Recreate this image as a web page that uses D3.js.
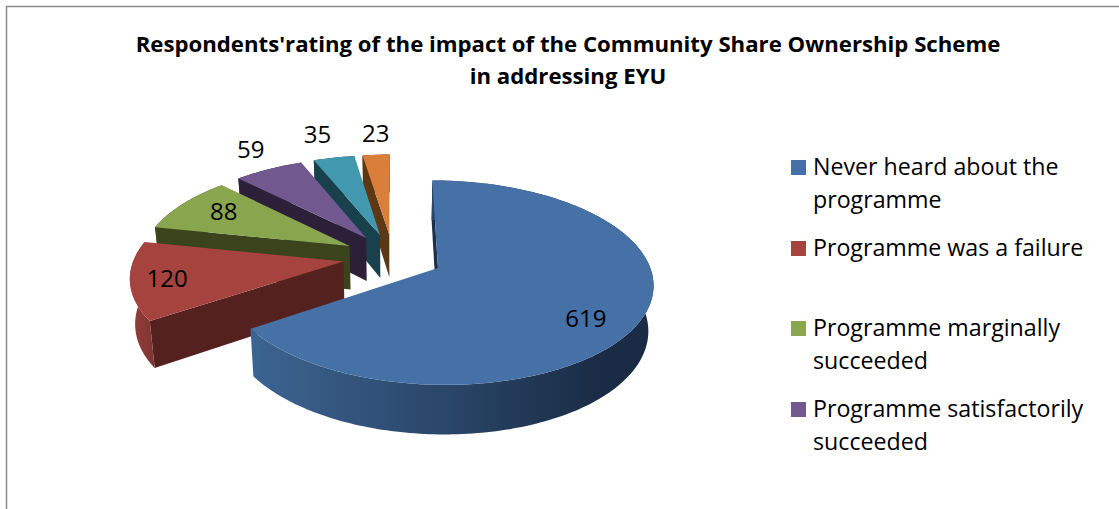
<!DOCTYPE html>
<html>
<head>
<meta charset="utf-8">
<script src="https://cdn.jsdelivr.net/npm/d3@7/dist/d3.min.js"></script>
<style>
html,body{margin:0;padding:0;background:#fff;overflow:hidden}
text{font-family:"Open Sans",Lato,sans-serif;fill:#000}
</style>
</head>
<body>
<svg id="chart" width="1119" height="509"></svg>
<script>
const categories = ["Never heard about the programme","Programme was a failure","Programme marginally succeeded","Programme satisfactorily succeeded","Programme very successful","Programme extremely successful"];
const values = [619,120,88,59,35,23];
const topColors = ["#4571A6","#A6433F","#89A54E","#71588F","#4198AF","#D97F3A"];
const wallColors = ["#1B2F4B","#55211F","#3A431B","#2C2039","#19404D","#5E3714"];
const rimColors = ["url(#blueRim)","url(#redRim)","#3A431B","#2C2039","#19404D","#5E3714"];
const legendLines = [["Never heard about the","programme"],["Programme was a failure"],["Programme marginally","succeeded"],["Programme satisfactorily","succeeded"]];
const titleLines = ["Respondents'rating of the impact of the Community Share Ownership Scheme","in addressing EYU"];
// label placement along each slice's middle direction, then a small pixel nudge
const labelNudge = [[8,15],[-28,3],[-7,-5],[-45,-40],[-29,-46],[-4,-44]];
const legendTop = [175,256,336,417];

const svg = d3.select("#chart");

// border: only the top and left edges fall inside the frame
svg.append("path").attr("d", d3.line()([[6.5,509],[6.5,6.5],[1119,6.5]]))
   .attr("fill","none").attr("stroke","#8a8a8a").attr("stroke-width",1.5);

// rim shading
const defs = svg.append("defs");
const blueRim = defs.append("linearGradient").attr("id","blueRim").attr("gradientUnits","userSpaceOnUse")
   .attr("x1",252).attr("x2",600).attr("y1",0).attr("y2",0);
[[0,"#3C6491"],[0.55,"#2A4669"],[1,"#1A2C45"]].forEach(s => blueRim.append("stop").attr("offset",s[0]).attr("stop-color",s[1]));
const redRim = defs.append("linearGradient").attr("id","redRim").attr("gradientUnits","userSpaceOnUse")
   .attr("x1",128).attr("x2",156).attr("y1",0).attr("y2",0);
[[0,"#96403C"],[1,"#7E3330"]].forEach(s => redRim.append("stop").attr("offset",s[0]).attr("stop-color",s[1]));

// ground plane to screen, tilted with mild perspective
const xScale = d3.scaleLinear().domain([0,1]).range([393,602]);
const yScale = d3.scaleLinear().domain([0,1]).range([257,354]);
const persp = 0.14, explode = 0.24, rimShrink = 0.98;
const project = (gx,gy) => { const s = 1/(1-persp*gy); return [xScale(gx*s), yScale(gy*s)]; };
const lower = (gx,gy) => {
  const p = project(gx,gy);
  return [xScale(0)+(p[0]-xScale(0))*rimShrink, p[1]+44+5*gy];
};
const dir = a => [Math.sin(a), -Math.cos(a)];

const arcs = d3.pie().sort(null).value(d => d)(values);
const line = d3.line();
const slices = arcs.map((a,i) => {
  const mid = (a.startAngle+a.endAngle)/2, m = dir(mid);
  const apex = [m[0]*explode, m[1]*explode];
  const n = Math.max(4, Math.ceil((a.endAngle-a.startAngle)/0.02));
  const ring = d3.range(n+1).map(k => {
    const d = dir(a.startAngle+(a.endAngle-a.startAngle)*k/n);
    return [apex[0]+d[0], apex[1]+d[1]];
  });
  return {i, mid, m, apex, ring};
});

// paint far slices first so nearer ones overlap them; blue is nearest
const order = [5,4,3,2,1,0];
order.forEach(i => {
  const s = slices[i], g = svg.append("g");
  const first = s.ring[0];
  // radial wall on the leading edge
  g.append("path").attr("d", line([project(...first), project(...s.apex), lower(...s.apex), lower(...first)])+"Z")
   .attr("fill", wallColors[i]);
  // outer rim
  const topEdge = s.ring.map(p => project(...p));
  const lowEdge = s.ring.map(p => lower(...p)).reverse();
  g.append("path").attr("d", line(topEdge.concat(lowEdge))+"Z").attr("fill", rimColors[i]);
  // top face
  g.append("path").attr("d", line([project(...s.apex)].concat(topEdge))+"Z").attr("fill", topColors[i]);
});

// value labels
slices.forEach(s => {
  const p = project(s.apex[0]+0.7*s.m[0], s.apex[1]+0.7*s.m[1]);
  svg.append("text").attr("x", p[0]+labelNudge[s.i][0]).attr("y", p[1]+labelNudge[s.i][1])
     .attr("text-anchor","middle").attr("dominant-baseline","central")
     .attr("font-size",24).text(values[s.i]);
});

// title
titleLines.forEach((t,i) => {
  svg.append("text").attr("x",568).attr("y",52+i*32).attr("text-anchor","middle")
     .attr("font-size",22.2).attr("font-weight",700).text(t);
});

// legend
legendLines.forEach((lines,i) => {
  svg.append("rect").attr("x",791).attr("y",legendTop[i]-15).attr("width",15).attr("height",15).attr("fill",topColors[i]);
  lines.forEach((t,j) => {
    svg.append("text").attr("x",813).attr("y",legendTop[i]+j*32.5).attr("font-size",23.2).text(t);
  });
});
</script>
</body>
</html>
